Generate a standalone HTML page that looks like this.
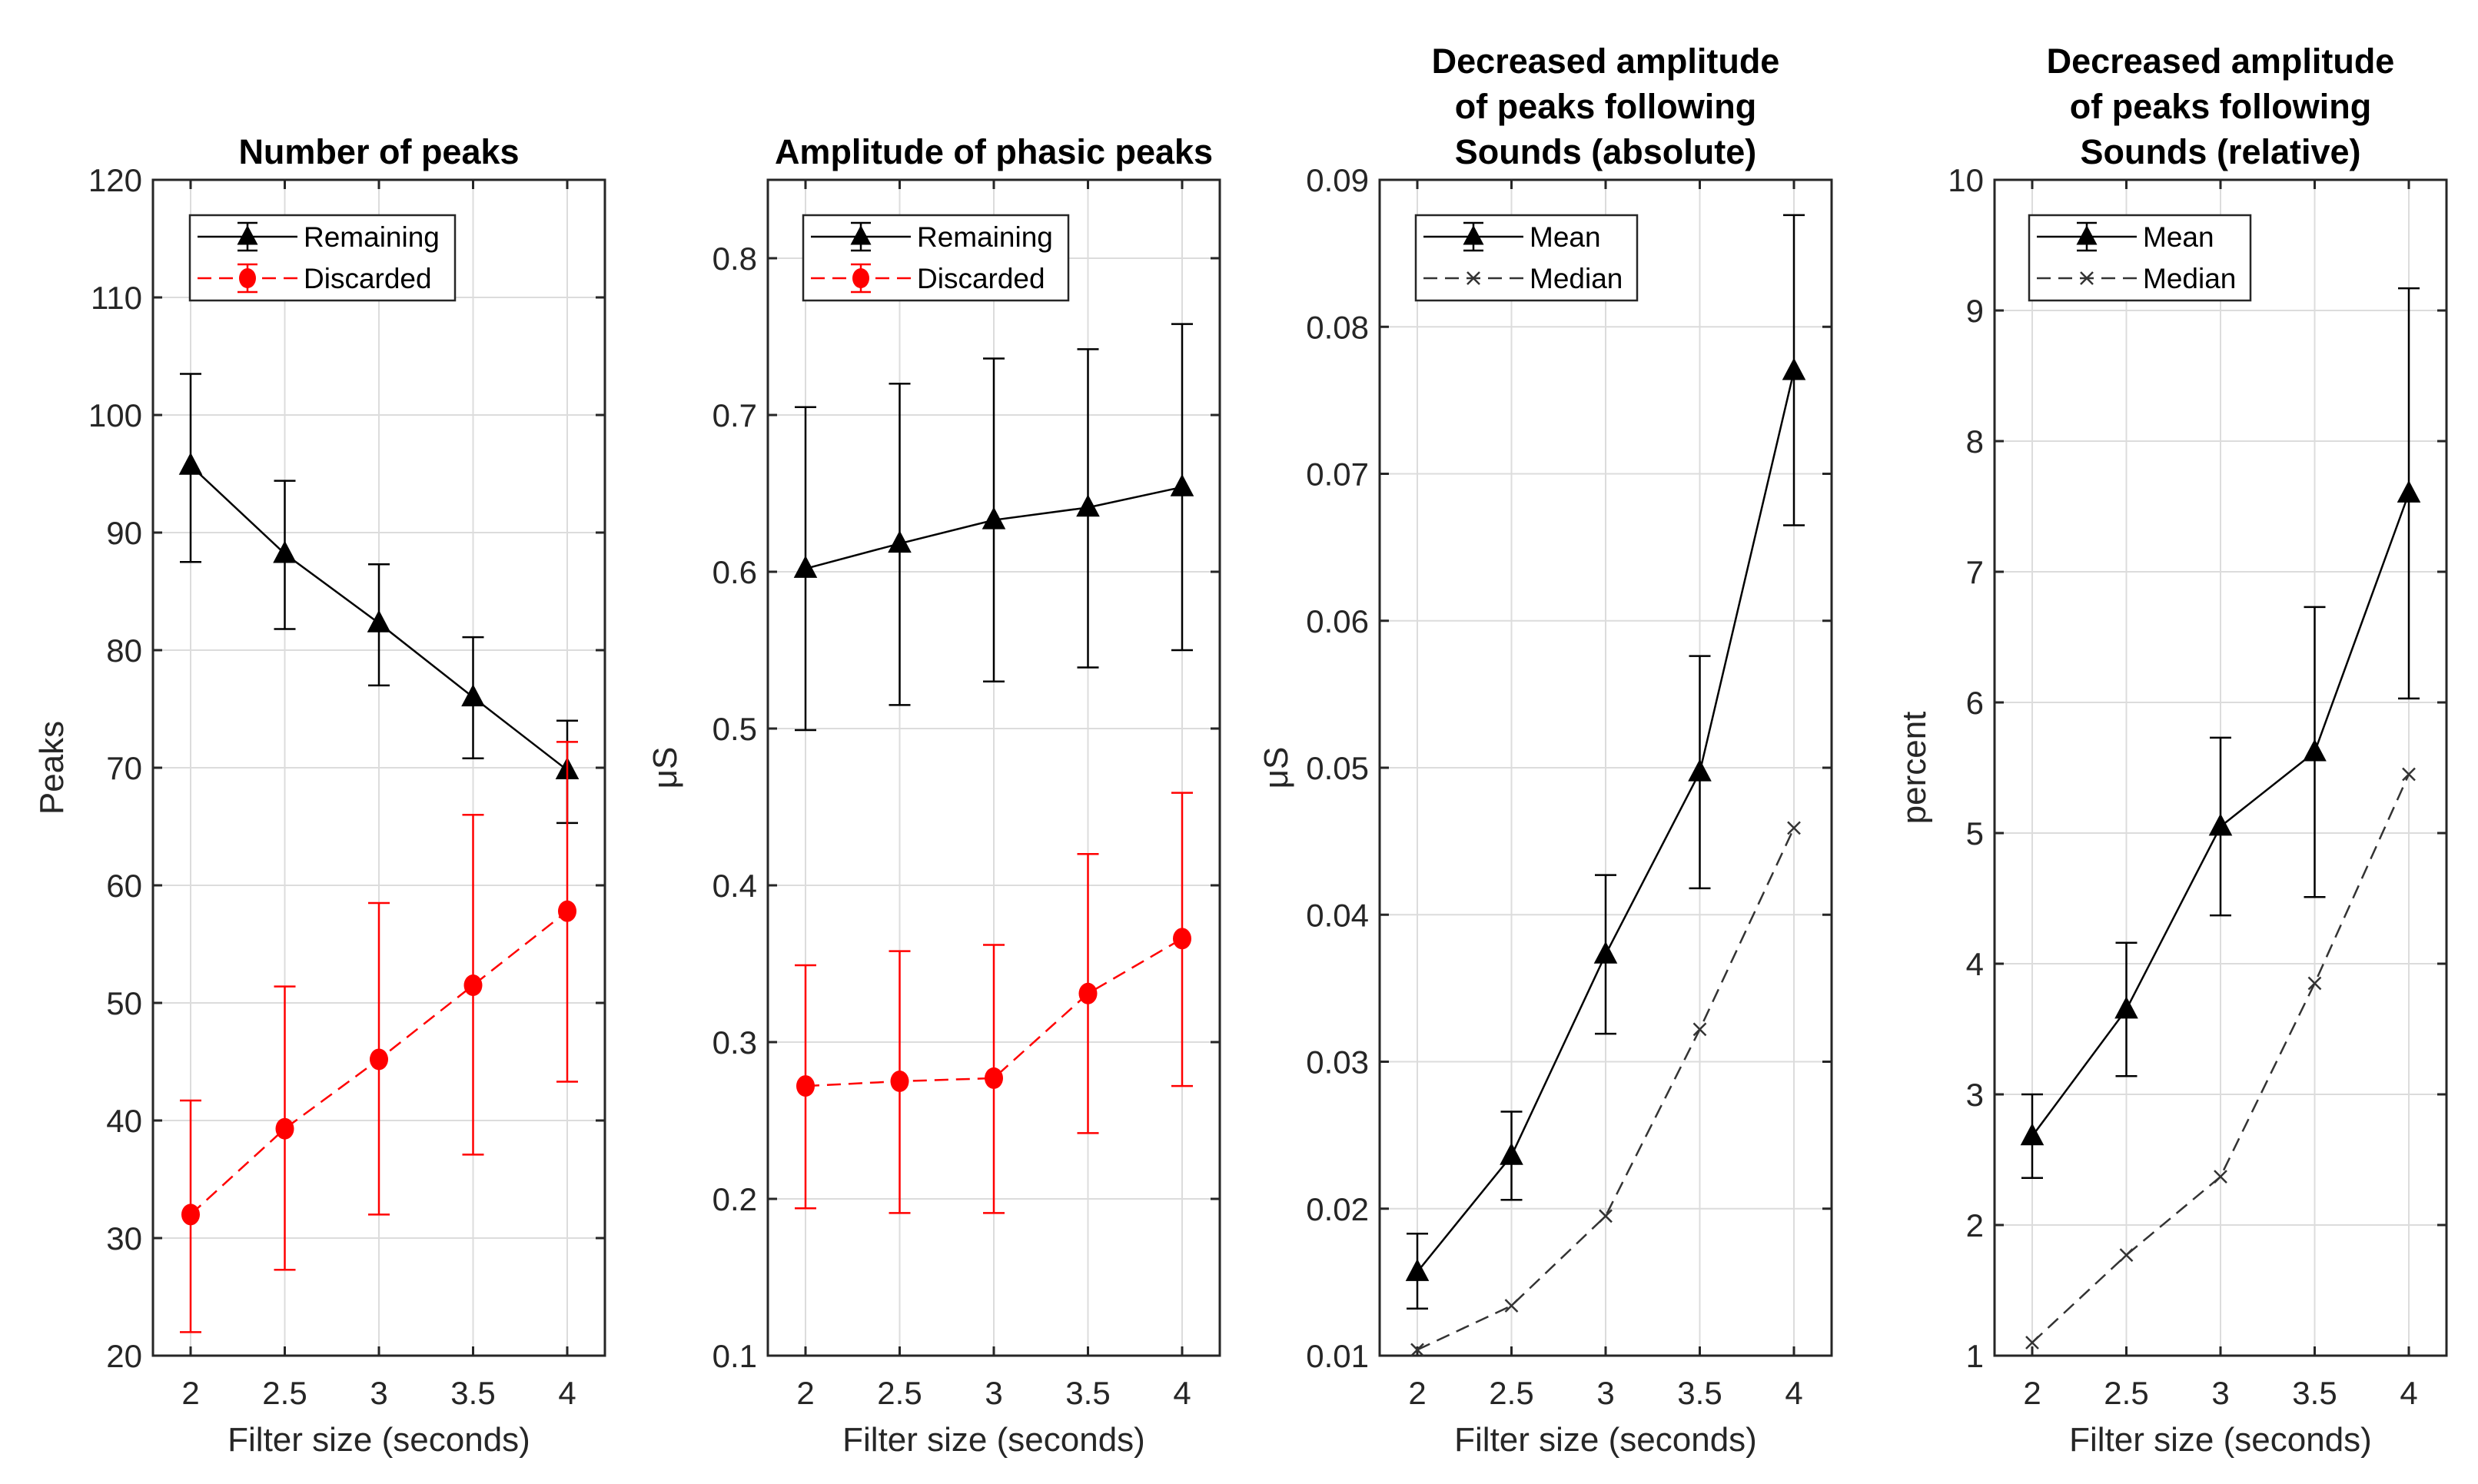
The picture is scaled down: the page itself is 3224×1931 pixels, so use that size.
<!DOCTYPE html>
<html><head><meta charset="utf-8"><style>
html,body{margin:0;padding:0;background:#fff;}
svg{display:block;font-family:"Liberation Sans",sans-serif;}
</style></head><body>
<svg id="fig" width="3224" height="1931" viewBox="0 0 3224 1931"></svg>
<script>
const categories=[2,2.5,3,3.5,4];
// Panel 1
const p1Remaining=[95.7,88.2,82.3,76,69.8];
const p1RemLo=[87.5,81.8,77,70.8,65.3];
const p1RemHi=[103.5,94.4,87.3,81.1,74];
const p1Discarded=[32,39.3,45.2,51.5,57.8];
const p1DisLo=[22,27.3,32,37.1,43.3];
const p1DisHi=[41.7,51.4,58.5,66,72.2];
const p1Ticks=[20,30,40,50,60,70,80,90,100,110,120];
// Panel 2
const p2Remaining=[0.602,0.618,0.633,0.641,0.654];
const p2RemLo=[0.499,0.515,0.53,0.539,0.55];
const p2RemHi=[0.705,0.72,0.736,0.742,0.758];
const p2Discarded=[0.272,0.275,0.277,0.331,0.366];
const p2DisLo=[0.194,0.191,0.191,0.242,0.272];
const p2DisHi=[0.349,0.358,0.362,0.42,0.459];
const p2Ticks=[0.1,0.2,0.3,0.4,0.5,0.6,0.7,0.8];
// Panel 3
const p3Mean=[0.0157,0.0236,0.0373,0.0497,0.077];
const p3MeanLo=[0.0132,0.0206,0.0319,0.0418,0.0665];
const p3MeanHi=[0.0183,0.0266,0.0427,0.0576,0.0876];
const p3Median=[0.0104,0.0134,0.0195,0.0322,0.0459];
const p3Ticks=[0.01,0.02,0.03,0.04,0.05,0.06,0.07,0.08,0.09];
// Panel 4
const p4Mean=[2.68,3.65,5.05,5.62,7.6];
const p4MeanLo=[2.36,3.14,4.37,4.51,6.03];
const p4MeanHi=[3.0,4.16,5.73,6.73,9.17];
const p4Median=[1.1,1.77,2.37,3.85,5.45];
const p4Ticks=[1,2,3,4,5,6,7,8,9,10];

const NS="http://www.w3.org/2000/svg";
const svg=document.getElementById('fig');
function mk(tag,attrs,parent){const e=document.createElementNS(NS,tag);for(const k in attrs)e.setAttribute(k,attrs[k]);(parent||svg).appendChild(e);return e;}
const TOP=234,BOT=1764,W=588;

function panel(left,ymin,ymax,yticks,ylabel,ylabelX,titleLines,name){
  const g=mk('g',{});
  
  
  const x=v=>left+(v-1.8)/2.4*W;
  const y=v=>BOT-(v-ymin)/(ymax-ymin)*(BOT-TOP);
  mk('rect',{x:left,y:TOP,width:W,height:BOT-TOP,fill:'#fff'},g);
  categories.forEach(c=>{mk('line',{x1:x(c),x2:x(c),y1:TOP,y2:BOT,stroke:'#dcdcdc','stroke-width':2},g);});
  yticks.forEach(t=>{mk('line',{x1:left,x2:left+W,y1:y(t),y2:y(t),stroke:'#dcdcdc','stroke-width':2},g);});
  const ax=mk('rect',{x:left,y:TOP,width:W,height:BOT-TOP,fill:'none',stroke:'#262626','stroke-width':3},g);
  
  categories.forEach(c=>{
    mk('line',{x1:x(c),x2:x(c),y1:BOT,y2:BOT-12,stroke:'#262626','stroke-width':3},g);
    mk('line',{x1:x(c),x2:x(c),y1:TOP,y2:TOP+12,stroke:'#262626','stroke-width':3},g);
    const t=mk('text',{x:x(c),y:1827,'font-size':42,fill:'#262626','text-anchor':'middle'},g);t.textContent=c;
    
  });
  yticks.forEach(v=>{
    mk('line',{x1:left,x2:left+12,y1:y(v),y2:y(v),stroke:'#262626','stroke-width':3},g);
    mk('line',{x1:left+W,x2:left+W-12,y1:y(v),y2:y(v),stroke:'#262626','stroke-width':3},g);
    const t=mk('text',{x:left-14,y:y(v)+15,'font-size':42,fill:'#262626','text-anchor':'end'},g);t.textContent=v;
    
  });
  const xl=mk('text',{x:left+W/2,y:1888,'font-size':44,fill:'#262626','text-anchor':'middle'},g);xl.textContent='Filter size (seconds)';
  
  const yl=mk('text',{x:0,y:0,'font-size':44,fill:'#262626','text-anchor':'middle',transform:`translate(${ylabelX},${(TOP+BOT)/2}) rotate(-90)`},g);yl.textContent=ylabel;
  
  titleLines.forEach((s,i)=>{
    const n=titleLines.length;
    const t=mk('text',{x:left+W/2,y:213-(n-1-i)*59,'font-size':45,'font-weight':'bold',fill:'#000','text-anchor':'middle'},g);t.textContent=s;
    
  });
  return {g,x,y};
}
function tri(g,cx,cy,s,col){return mk('polygon',{points:`${cx},${cy-s} ${cx-s*0.9},${cy+s*0.7} ${cx+s*0.9},${cy+s*0.7}`,fill:col},g);}
function series(P,vals,lo,hi,col,dash,marker,name){
  const g=mk('g',{},P.g);
  
  
  if(lo){categories.forEach((c,i)=>{
    const X=P.x(c);
    mk('line',{x1:X,x2:X,y1:P.y(lo[i]),y2:P.y(hi[i]),stroke:col,'stroke-width':2.5},g);
    mk('line',{x1:X-14,x2:X+14,y1:P.y(lo[i]),y2:P.y(lo[i]),stroke:col,'stroke-width':2.5},g);
    mk('line',{x1:X-14,x2:X+14,y1:P.y(hi[i]),y2:P.y(hi[i]),stroke:col,'stroke-width':2.5},g);
  });}
  const pts=categories.map((c,i)=>P.x(c)+','+P.y(vals[i])).join(' ');
  const a={points:pts,fill:'none',stroke:col,'stroke-width':2.5};if(dash)a['stroke-dasharray']=dash;
  mk('polyline',a,g);
  categories.forEach((c,i)=>{
    const X=P.x(c),Y=P.y(vals[i]);let m;
    if(marker==='tri')m=tri(g,X,Y,17,col);
    else if(marker==='dot')m=mk('ellipse',{cx:X,cy:Y,rx:12,ry:14,fill:col},g);
    else{m=mk('path',{d:`M${X-8},${Y-8}L${X+8},${Y+8}M${X-8},${Y+8}L${X+8},${Y-8}`,stroke:col,'stroke-width':2.5},g);}
    
  });
}
function legend(P,left,w,labels,cols,dashes,markers){
  const g=mk('g',{},P.g);
  
  
  mk('rect',{x:left,y:280,width:w,height:111,fill:'#fff',stroke:'#262626','stroke-width':2.5},g);
  labels.forEach((l,i)=>{
    const yy=308+i*54,e=mk('g',{},g);
    
    
    const a={x1:left+10,x2:left+140,y1:yy,y2:yy,stroke:cols[i],'stroke-width':2.5};if(dashes[i])a['stroke-dasharray']=dashes[i];
    mk('line',a,e);
    const cx=left+75;
    if(markers[i]!=='x'){
      mk('line',{x1:cx,x2:cx,y1:yy-18,y2:yy+18,stroke:cols[i],'stroke-width':2.5},e);
      mk('line',{x1:cx-13,x2:cx+13,y1:yy-18,y2:yy-18,stroke:cols[i],'stroke-width':2.5},e);
      mk('line',{x1:cx-13,x2:cx+13,y1:yy+18,y2:yy+18,stroke:cols[i],'stroke-width':2.5},e);
    }
    if(markers[i]==='tri')tri(e,cx,yy,15,cols[i]);
    else if(markers[i]==='dot')mk('ellipse',{cx:cx,cy:yy,rx:11,ry:13,fill:cols[i]},e);
    else mk('path',{d:`M${cx-8},${yy-8}L${cx+8},${yy+8}M${cx-8},${yy+8}L${cx+8},${yy-8}`,stroke:cols[i],'stroke-width':2.5},e);
    const t=mk('text',{x:left+148,y:yy+13,'font-size':37,fill:'#000'},e);t.textContent=l;
  });
}
const P1=panel(199,20,120,p1Ticks,'Peaks',82,['Number of peaks'],'panel-number-of-peaks');
legend(P1,247,345,['Remaining','Discarded'],['#000','#f00'],[null,'18,10'],['tri','dot']);
series(P1,p1Remaining,p1RemLo,p1RemHi,'#000',null,'tri','series-remaining');
series(P1,p1Discarded,p1DisLo,p1DisHi,'#f00','18,10','dot','series-discarded');

const P2=panel(999,0.1,0.85,p2Ticks,'μS',880,['Amplitude of phasic peaks'],'panel-amplitude');
legend(P2,1045,345,['Remaining','Discarded'],['#000','#f00'],[null,'18,10'],['tri','dot']);
series(P2,p2Remaining,p2RemLo,p2RemHi,'#000',null,'tri','series-remaining');
series(P2,p2Discarded,p2DisLo,p2DisHi,'#f00','18,10','dot','series-discarded');

const P3=panel(1795,0.01,0.09,p3Ticks,'μS',1675,['Decreased amplitude','of peaks following','Sounds (absolute)'],'panel-absolute');
legend(P3,1842,288,['Mean','Median'],['#000','#333'],[null,'18,10'],['tri','x']);
series(P3,p3Median,null,null,'#333','18,10','x','series-median');
series(P3,p3Mean,p3MeanLo,p3MeanHi,'#000',null,'tri','series-mean');

const P4=panel(2595,1,10,p4Ticks,'percent',2505,['Decreased amplitude','of peaks following','Sounds (relative)'],'panel-relative');
legend(P4,2640,288,['Mean','Median'],['#000','#333'],[null,'18,10'],['tri','x']);
series(P4,p4Median,null,null,'#333','18,10','x','series-median');
series(P4,p4Mean,p4MeanLo,p4MeanHi,'#000',null,'tri','series-mean');
</script>
</body></html>
